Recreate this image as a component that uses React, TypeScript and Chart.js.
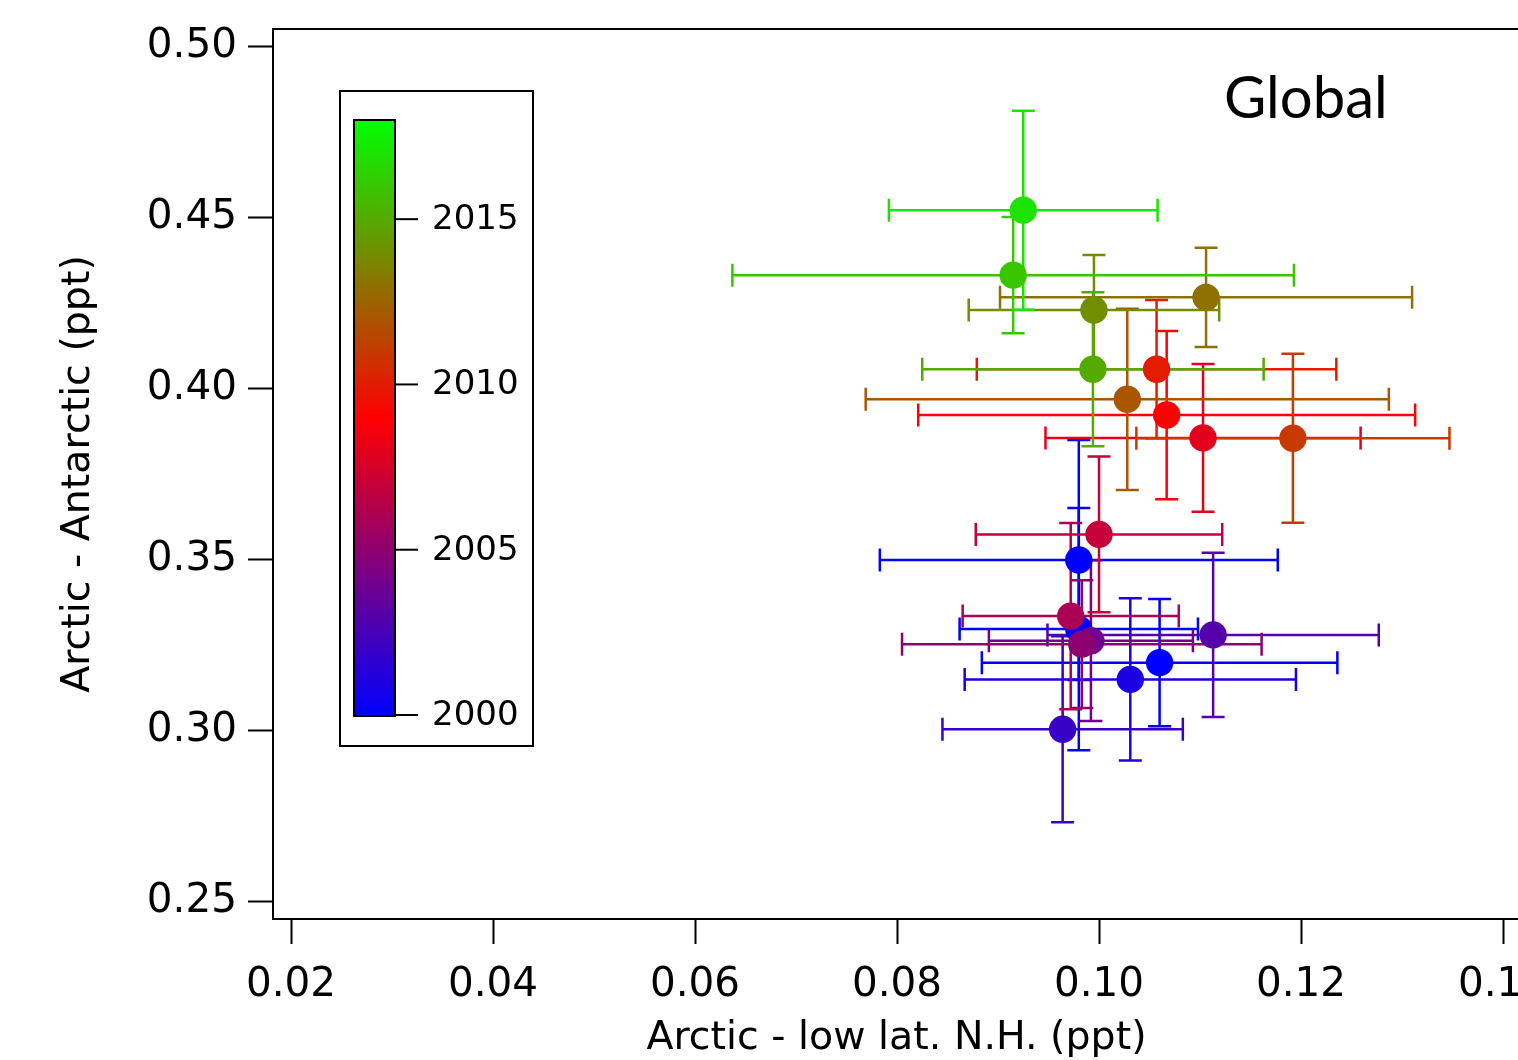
import React, { useEffect, useRef } from 'react';
import { Chart, registerables } from 'chart.js';

Chart.register(...registerables);

// ---- data ----
const years = [1998, 1999, 2000, 2001, 2002, 2003, 2004, 2005, 2006, 2007, 2008, 2009, 2010, 2011, 2012, 2013, 2014, 2015, 2016, 2017];
const xValues = [0.0980, 0.0980, 0.1060, 0.1031, 0.0964, 0.1113, 0.0992, 0.0983, 0.0972, 0.1000, 0.1103, 0.1067, 0.1057, 0.1192, 0.1028, 0.1106, 0.0995, 0.0994, 0.0915, 0.0925];
const yValues = [0.3497, 0.3295, 0.3197, 0.3148, 0.3002, 0.3278, 0.3261, 0.3251, 0.3333, 0.3572, 0.3854, 0.3921, 0.4055, 0.3853, 0.3967, 0.4265, 0.4228, 0.4055, 0.4330, 0.4520];
const xErrors = [0.0197, 0.0118, 0.0176, 0.0164, 0.0119, 0.0164, 0.0101, 0.0178, 0.0107, 0.0122, 0.0156, 0.0246, 0.0178, 0.0155, 0.0259, 0.0204, 0.0124, 0.0169, 0.0278, 0.0133];
const yErrors = [0.0351, 0.0354, 0.0186, 0.0237, 0.0272, 0.0240, 0.0235, 0.0187, 0.0272, 0.0228, 0.0216, 0.0246, 0.0202, 0.0247, 0.0265, 0.0145, 0.0161, 0.0225, 0.0170, 0.0291];

const xTicks = [0.02, 0.04, 0.06, 0.08, 0.10, 0.12, 0.14];
const yTicks = [0.25, 0.30, 0.35, 0.40, 0.45, 0.50];
const colorbarTicks = [2000, 2005, 2010, 2015];
const colorbarMin = 2000;
const colorbarMax = 2018;

const xTitle = 'Arctic - low lat. N.H. (ppt)';
const yTitle = 'Arctic - Antarctic (ppt)';
const panelLabel = 'Global';

const FONT = "'DejaVu Sans', sans-serif";

function yearColor(year: number): string {
  let t = (year - colorbarMin) / (colorbarMax - colorbarMin);
  t = Math.max(0, Math.min(1, t));
  let r = 0, g = 0, b = 0;
  if (t <= 0.5) {
    const f = t / 0.5;
    r = 255 * f; b = 255 * (1 - f);
  } else {
    const f = (t - 0.5) / 0.5;
    r = 255 * (1 - f); g = 255 * f;
  }
  return `rgb(${Math.round(r)},${Math.round(g)},${Math.round(b)})`;
}

const errorBarPlugin = {
  id: 'errorBars',
  beforeDatasetsDraw(chart: any) {
    const { ctx, scales } = chart;
    const xs = scales.x, ys = scales.y;
    const cap = 11.5;
    ctx.save();
    ctx.lineWidth = 2.5;
    for (let i = 0; i < years.length; i++) {
      const c = yearColor(years[i]);
      ctx.strokeStyle = c;
      const px = xs.getPixelForValue(xValues[i]);
      const py = ys.getPixelForValue(yValues[i]);
      const x0 = xs.getPixelForValue(xValues[i] - xErrors[i]);
      const x1 = xs.getPixelForValue(xValues[i] + xErrors[i]);
      const y0 = ys.getPixelForValue(yValues[i] + yErrors[i]);
      const y1 = ys.getPixelForValue(yValues[i] - yErrors[i]);
      ctx.beginPath();
      ctx.moveTo(x0, py); ctx.lineTo(x1, py);
      ctx.moveTo(x0, py - cap); ctx.lineTo(x0, py + cap);
      ctx.moveTo(x1, py - cap); ctx.lineTo(x1, py + cap);
      ctx.moveTo(px, y0); ctx.lineTo(px, y1);
      ctx.moveTo(px - cap, y0); ctx.lineTo(px + cap, y0);
      ctx.moveTo(px - cap, y1); ctx.lineTo(px + cap, y1);
      ctx.stroke();
    }
    ctx.restore();
  },
};

const decorPlugin = {
  id: 'decor',
  afterDraw(chart: any) {
    const { ctx, chartArea } = chart;
    ctx.save();
    // top frame line
    ctx.strokeStyle = '#000';
    ctx.lineWidth = 2;
    ctx.beginPath();
    ctx.moveTo(chartArea.left - 1, chartArea.top);
    ctx.lineTo(chartArea.right + 2, chartArea.top);
    ctx.stroke();

    // colour-scale legend
    const boxL = 340, boxT = 91, boxR = 533, boxB = 746;
    const barL = 354, barR = 395, barT = 120, barB = 716;
    const yearY = (yr: number) => barB - 1 - ((yr - colorbarMin) / (colorbarMax - colorbarMin)) * (barB - 1 - barT);
    ctx.fillStyle = '#fff';
    ctx.fillRect(boxL, boxT, boxR - boxL, boxB - boxT);
    ctx.strokeRect(boxL, boxT, boxR - boxL, boxB - boxT);
    const grad = ctx.createLinearGradient(0, barB, 0, barT);
    const steps = 36;
    for (let k = 0; k <= steps; k++) {
      const yr = colorbarMin + (k / steps) * (colorbarMax - colorbarMin);
      grad.addColorStop(k / steps, yearColor(yr));
    }
    ctx.fillStyle = grad;
    ctx.fillRect(barL, barT, barR - barL, barB - barT);
    ctx.strokeRect(barL, barT, barR - barL, barB - barT);
    ctx.fillStyle = '#000';
    ctx.font = `34px ${FONT}`;
    ctx.textAlign = 'left';
    ctx.textBaseline = 'middle';
    for (const yr of colorbarTicks) {
      const y = yearY(yr);
      ctx.beginPath();
      ctx.moveTo(barR, y);
      ctx.lineTo(barR + 23, y);
      ctx.stroke();
      ctx.fillText(String(yr), 432, y + 1);
    }

    // panel label
    ctx.font = `58px Lato, 'Open Sans', sans-serif`;
    ctx.textBaseline = 'alphabetic';
    ctx.fillText(panelLabel, 1224, 118);
    ctx.restore();
  },
};

export default function App() {
  const ref = useRef<HTMLCanvasElement | null>(null);

  useEffect(() => {
    if (!ref.current) return;
    Chart.defaults.font.family = FONT;
    Chart.defaults.color = '#000';
    const chart = new Chart(ref.current, {
      type: 'scatter',
      data: {
        datasets: [
          {
            data: years.map((_, i) => ({ x: xValues[i], y: yValues[i] })),
            pointRadius: 13.7,
            pointHoverRadius: 13.7,
            pointBorderWidth: 0,
            pointBackgroundColor: years.map((yr) => yearColor(yr)),
            pointBorderColor: years.map((yr) => yearColor(yr)),
            showLine: false,
          },
        ],
      },
      options: {
        animation: false,
        responsive: false,
        maintainAspectRatio: false,
        events: [],
        layout: { padding: { left: 53, top: 29, right: 80, bottom: 0 } },
        plugins: {
          legend: { display: false },
          tooltip: { enabled: false },
          title: { display: false },
        },
        scales: {
          x: {
            type: 'linear',
            min: 0.02 - 18 / 10100,
            max: 0.02 + 1229 / 10100,
            afterBuildTicks: (s: any) => {
              s.ticks = xTicks.map((v) => ({ value: v }));
            },
            afterFit: (s: any) => {
              s.height = 141;
              s.paddingLeft = 0;
              s.paddingRight = 0;
            },
            ticks: {
              font: { size: 40.5, family: FONT },
              color: '#000',
              padding: 17,
              maxRotation: 0,
              autoSkip: false,
              callback: (v: any) => Number(v).toFixed(2),
            },
            grid: {
              drawOnChartArea: false,
              drawTicks: true,
              tickLength: 25,
              tickWidth: 2,
              tickColor: '#000',
            },
            border: { display: true, color: '#000', width: 2 },
            title: {
              display: true,
              text: xTitle,
              font: { size: 39.5, family: FONT },
              color: '#000',
              padding: { top: 0, bottom: -2 },
            },
          },
          y: {
            type: 'linear',
            min: 0.25 - 18 / 3420,
            max: 0.5 + 17 / 3420,
            afterBuildTicks: (s: any) => {
              s.ticks = yTicks.map((v) => ({ value: v }));
            },
            afterFit: (s: any) => {
              s.width = 220;
              s.paddingTop = 0;
              s.paddingBottom = 0;
            },
            ticks: {
              font: { size: 40.5, family: FONT },
              color: '#000',
              padding: 11,
              autoSkip: false,
              callback: (v: any) => Number(v).toFixed(2),
            },
            grid: {
              drawOnChartArea: false,
              drawTicks: true,
              tickLength: 25,
              tickWidth: 2,
              tickColor: '#000',
            },
            border: { display: true, color: '#000', width: 2 },
            title: {
              display: true,
              text: yTitle,
              font: { size: 39.5, family: FONT },
              color: '#000',
              padding: { top: 2, bottom: 0 },
            },
          },
        },
      },
      plugins: [errorBarPlugin, decorPlugin],
    } as any);
    return () => chart.destroy();
  }, []);

  return (
    <div
      style={{
        position: 'fixed',
        left: 0,
        top: 0,
        width: 1518,
        height: 1060,
        overflow: 'hidden',
        background: '#fff',
      }}
    >
      <canvas ref={ref} width={1600} height={1060} style={{ width: 1600, height: 1060, display: 'block' }} />
    </div>
  );
}
